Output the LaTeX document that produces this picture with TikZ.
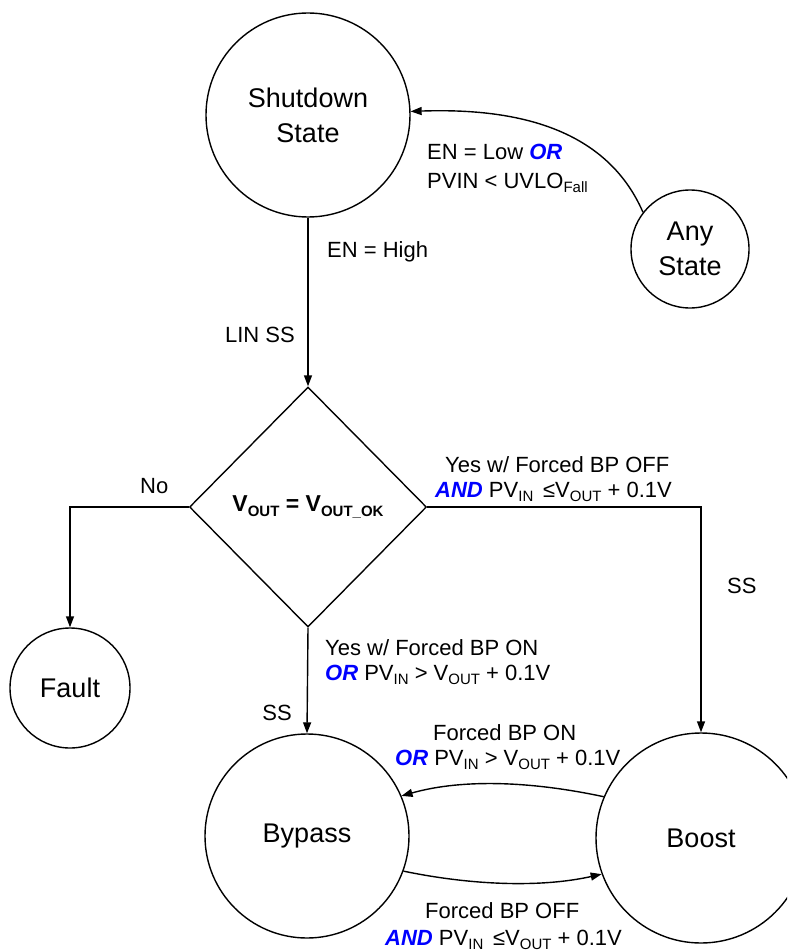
\documentclass[tikz,border=0pt]{standalone}
\usepackage{fontspec}
\setmainfont{Liberation Sans}
\usetikzlibrary{shapes.geometric,arrows.meta}
\newcommand\sbx[1]{\raisebox{-0.35ex}{\fontsize{15}{15}\selectfont #1}}
\newcommand\kw[1]{\textcolor{blue}{\textbf{\textit{#1}}}}
\begin{document}
\begin{tikzpicture}[x=1pt,y=-1pt,
  state/.style={circle,draw,line width=1.4pt,inner sep=0pt,align=center,font=\fontsize{27}{35}\selectfont},
  lbl/.style={inner sep=0pt,font=\fontsize{22}{25}\selectfont,anchor=base west},
  lblr/.style={lbl,anchor=base east},
  conn/.style={line width=1.4pt,-{Triangle[length=11pt,width=8pt]}}]
\useasboundingbox (0,0) rectangle (787,952);
\clip (0,0) rectangle (787,952);
% states
\node[state,minimum size=204pt] (shut) at (308,115) {Shutdown\\State};
\node[state,minimum size=118pt] (any) at (690,249) {Any\\State};
\node[state,minimum size=120pt] (fault) at (70,688) {Fault};
\node[state,minimum size=204pt] (bypass) at (307,836) {Bypass};
\node[state,minimum size=210pt] (boost) at (701,838) {Boost};
\node[draw,diamond,line width=1.4pt,minimum width=237pt,minimum height=240pt,inner sep=0pt,
      font=\bfseries\fontsize{23}{23}\selectfont] (dia) at (308,507) {V\sbx{OUT} = V\sbx{OUT\_OK}};
% connectors
\draw[conn] (shut.south) -- (dia.north);
\draw[conn] (dia.west) -| (fault.north);
\draw[conn] (dia.east) -| (boost.north);
\draw[conn] (dia.south) -- (bypass.north);
\draw[conn] (any.142) .. controls (605,125) and (510,108) .. (shut.2);
\draw[conn] (boost.157) .. controls (535,782) and (465,778) .. (bypass.23);
\draw[conn] (bypass.-20) .. controls (470,885) and (540,888) .. (boost.200);
% labels
\node[lbl] (l1) at (327,257) {EN = High};
\node[lblr] (l2) at (295,342) {LIN SS};
\node[lbl] (l3a) at (427,160) {EN = Low \kw{OR}};
\node[lbl] (l3b) at (427,188) {PVIN < UVLO\sbx{Fall}};
\node[lbl] (l4) at (140,493) {No};
\node[lbl] (l5a) at (445,472) {Yes w/ Forced BP OFF};
\node[lbl] (l5b) at (435,497) {\kw{AND} PV\sbx{IN} \,≤V\sbx{OUT} + 0.1V};
\node[lbl] (l6) at (727,593) {SS};
\node[lbl] (l7a) at (325,655) {Yes w/ Forced BP ON};
\node[lbl] (l7b) at (325,680) {\kw{OR} PV\sbx{IN} > V\sbx{OUT} + 0.1V};
\node[lblr] (l8) at (292,720) {SS};
\node[lbl] (l9a) at (433,740) {Forced BP ON};
\node[lbl] (l9b) at (395,765) {\kw{OR} PV\sbx{IN} > V\sbx{OUT} + 0.1V};
\node[lbl] (l10a) at (425,918) {Forced BP OFF};
\node[lbl] (l10b) at (385,945) {\kw{AND} PV\sbx{IN} \,≤V\sbx{OUT} + 0.1V};
\end{tikzpicture}
\end{document}
